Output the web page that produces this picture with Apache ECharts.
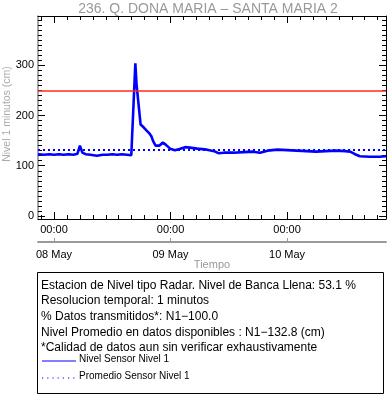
<!DOCTYPE html>
<html><head><meta charset="utf-8">
<script src="https://cdn.jsdelivr.net/npm/echarts@6/dist/echarts.min.js"></script>
<style>html,body{margin:0;padding:0;background:#fff}#c{width:388px;height:404px}</style>
</head><body><div id="c"></div>
<script>
var titleText = '236. Q. DONA MARIA \u2013 SANTA MARIA 2';
var yName = 'Nivel 1 minutos (cm)';
var xName = 'Tiempo';
var times = ['2024-05-07 20:42','2024-05-07 22:00','2024-05-07 23:00','2024-05-08 00:00','2024-05-08 01:00','2024-05-08 02:00','2024-05-08 03:00','2024-05-08 04:00','2024-05-08 04:50','2024-05-08 05:20','2024-05-08 05:50','2024-05-08 06:30','2024-05-08 07:30','2024-05-08 08:50','2024-05-08 10:00','2024-05-08 11:00','2024-05-08 12:00','2024-05-08 13:00','2024-05-08 14:00','2024-05-08 15:00','2024-05-08 15:55','2024-05-08 16:05','2024-05-08 16:45','2024-05-08 17:00','2024-05-08 17:50','2024-05-08 18:30','2024-05-08 19:05','2024-05-08 19:35','2024-05-08 20:05','2024-05-08 20:25','2024-05-08 20:55','2024-05-08 21:10','2024-05-08 21:40','2024-05-08 22:25','2024-05-08 23:00','2024-05-08 23:55','2024-05-09 00:55','2024-05-09 02:00','2024-05-09 03:00','2024-05-09 04:00','2024-05-09 05:30','2024-05-09 07:30','2024-05-09 09:00','2024-05-09 09:50','2024-05-09 11:00','2024-05-09 13:00','2024-05-09 15:00','2024-05-09 17:00','2024-05-09 18:25','2024-05-09 20:00','2024-05-09 22:00','2024-05-10 00:00','2024-05-10 02:00','2024-05-10 04:00','2024-05-10 06:00','2024-05-10 08:00','2024-05-10 10:00','2024-05-10 12:00','2024-05-10 13:00','2024-05-10 14:00','2024-05-10 15:00','2024-05-10 17:00','2024-05-10 19:00','2024-05-10 20:23'];
var levels = [123,122,123,122,123,122,123,122,124,140,126,123,122,120,122,122,123,122,123,122,121,119,304,262,182,176,170,165,158,149,140,137,140,146,142,134,131,134,137,136,134,132,129,125,126,126,127,128,126,130,132,131,130,129,128,129,130,129,128,123,119,118,118,119];
var bancaLlena = 250;
var promedio = 132.8;
var dayTicks = ['2024-05-08 00:00','2024-05-09 00:00','2024-05-10 00:00'];
var dayLabels = ['08 May','09 May','10 May'];
var hourLabel = '00:00';
var yLabels = [0,100,200,300];
var xMin = '2024-05-07 20:42', xMax = '2024-05-10 20:23';
var yMin = -6, yMax = 398;
var infoLines = ['Estacion de Nivel tipo Radar. Nivel de Banca Llena: 53.1 %','Resolucion temporal: 1 minutos','% Datos transmitidos*: N1\u2212100.0','Nivel Promedio en datos disponibles : N1\u2212132.8 (cm)','*Calidad de datos aun sin verificar exhaustivamente'];
var legendNames = ['Nivel Sensor Nivel 1','Promedio Sensor Nivel 1'];

// hours relative to the first day tick
function hrs(s){var p=s.split(/[- :]/);var q=dayTicks[0].split(/[- :]/);
  return (Date.UTC(+p[0],+p[1]-1,+p[2],+p[3],+p[4]) - Date.UTC(+q[0],+q[1]-1,+q[2],+q[3],+q[4]))/3600000;}
var dayH = dayTicks.map(hrs);
var x0 = hrs(xMin), x1 = hrs(xMax);
var minorX = [];
for (var k=-1;k<=25;k++){var v=k*24/9; if(v>=x0&&v<=x1&&k%9!==0) minorX.push(v);}
var minorY = [];
for (var y=0;y<=390;y+=10){ if(yLabels.indexOf(y)<0) minorY.push(y);}
var data = times.map(function(t,i){return [hrs(t),levels[i]];});
var FF = '"Liberation Sans", Arial, sans-serif';

function xAx(o){var a=Object.assign({type:'value',min:x0,max:x1,gridIndex:0,splitLine:{show:false},axisTick:{show:false},axisLabel:{show:false}},o);a.axisLine=Object.assign({show:false},o.axisLine||{},{onZero:false});return a;}
function yAx(o){var a=Object.assign({type:'value',min:yMin,max:yMax,splitLine:{show:false},axisTick:{show:false},axisLabel:{show:false}},o);a.axisLine=Object.assign({show:false},o.axisLine||{},{onZero:false});return a;}
function dayIdx(v){var best=0;for(var i=0;i<dayH.length;i++){if(Math.abs(dayH[i]-v)<Math.abs(dayH[best]-v))best=i;}return best;}

var chart = echarts.init(document.getElementById('c'),null,{renderer:'canvas'});
var infoG = infoLines.map(function(s,i){return {type:'text',left:41,top:279.5+i*15.65,style:{text:s,font:'12px '+FF,fill:'#000'}};});
chart.setOption({
  animation:false,
  grid:{left:38,right:2,top:16,bottom:185,containLabel:false,outerBoundsMode:'none'},
  xAxis:[
    xAx({position:'bottom',axisLine:{show:true,lineStyle:{color:'#000',width:1}},axisTick:{show:true,inside:true,length:7,customValues:dayH,lineStyle:{color:'#000'}},axisLabel:{show:true,customValues:dayH,margin:5,color:'#000',fontSize:11,fontFamily:FF,formatter:function(){return hourLabel;}}}),
    xAx({position:'bottom',axisTick:{show:true,inside:true,length:4,customValues:minorX,lineStyle:{color:'#000'}},axisLabel:{show:false,customValues:minorX}}),
    xAx({position:'top',axisLine:{show:true,lineStyle:{color:'#000',width:1}},axisTick:{show:true,inside:true,length:7,customValues:dayH,lineStyle:{color:'#000'}},axisLabel:{show:false,customValues:dayH}}),
    xAx({position:'top',axisTick:{show:true,inside:true,length:4,customValues:minorX,lineStyle:{color:'#000'}},axisLabel:{show:false,customValues:minorX}}),
    xAx({position:'bottom',offset:23,axisLine:{show:true,lineStyle:{color:'#999',width:2}},axisTick:{show:true,inside:true,length:4,customValues:dayH,lineStyle:{color:'#999'}},axisLabel:{show:true,customValues:dayH,margin:7,color:'#000',fontSize:11,fontFamily:FF,formatter:function(v){return dayLabels[dayIdx(v)];}}})
  ],
  yAxis:[
    yAx({position:'left',axisLine:{show:true,lineStyle:{color:'#888',width:1.5}},axisTick:{show:true,inside:true,length:7,customValues:yLabels,lineStyle:{color:'#000'}},axisLabel:{show:true,customValues:yLabels,margin:4,color:'#000',fontSize:11,fontFamily:FF}}),
    yAx({position:'left',axisTick:{show:true,inside:true,length:4,customValues:minorY,lineStyle:{color:'#000'}},axisLabel:{show:false,customValues:minorY}}),
    yAx({position:'right',axisLine:{show:true,lineStyle:{color:'#000',width:1}},axisTick:{show:true,inside:true,length:7,customValues:yLabels,lineStyle:{color:'#000'}},axisLabel:{show:false,customValues:yLabels}}),
    yAx({position:'right',axisTick:{show:true,inside:true,length:4,customValues:minorY,lineStyle:{color:'#000'}},axisLabel:{show:false,customValues:minorY}})
  ],
  series:[{
    type:'line',xAxisIndex:0,yAxisIndex:0,data:data,showSymbol:false,symbol:'none',
    lineStyle:{color:'#0000ff',width:2.6},
    markLine:{silent:true,symbol:'none',label:{show:false},data:[
      {yAxis:bancaLlena,lineStyle:{color:'#ff2a1a',width:1.5,type:'solid'}},
      {yAxis:promedio,lineStyle:{color:'#0000ff',width:2,type:[2,3]}}
    ]}
  }],
  graphic:[
    {type:'text',x:208,y:9,style:{text:titleText,font:'14px '+FF,fill:'#999',align:'center',verticalAlign:'middle'}},
    {type:'text',x:7,y:114,rotation:Math.PI/2,style:{text:yName,font:'10.5px '+FF,fill:'#aaa',align:'center',verticalAlign:'middle'}},
    {type:'text',x:212,y:265,style:{text:xName,font:'11px '+FF,fill:'#999',align:'center',verticalAlign:'middle'}},
    {type:'rect',shape:{x:37.5,y:272.5,width:346,height:121},style:{fill:'none',stroke:'#000',lineWidth:1}},
    {type:'line',shape:{x1:42,y1:361,x2:76,y2:361},style:{stroke:'#0000ff',lineWidth:1.2}},
    {type:'text',left:79,top:354,style:{text:legendNames[0],font:'10px '+FF,fill:'#000'}},
    {type:'line',shape:{x1:42,y1:378,x2:76,y2:378},style:{stroke:'#0000ff',lineWidth:1.2,lineDash:[1.2,4]}},
    {type:'text',left:79,top:371,style:{text:legendNames[1],font:'10px '+FF,fill:'#000'}}
  ].concat(infoG)
});
</script></body></html>
